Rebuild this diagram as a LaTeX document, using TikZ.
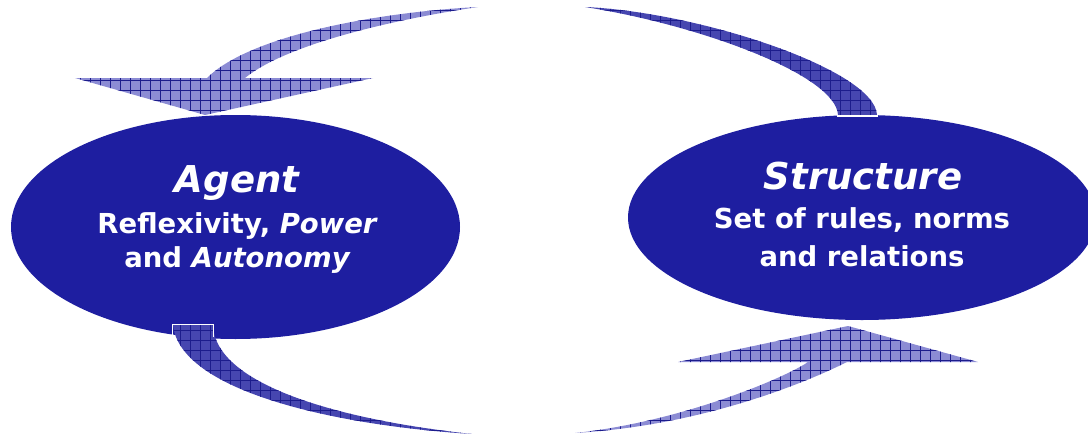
\documentclass[tikz,border=0pt]{standalone}
\usepackage{fontspec}
\setmainfont{DejaVu Sans}
\usetikzlibrary{shapes.geometric}
\definecolor{navy}{RGB}{30,30,160}
\definecolor{lightarr}{RGB}{140,140,212}
\definecolor{darkarr}{RGB}{70,70,176}
\definecolor{gridc}{RGB}{28,28,140}
\tikzset{
  oval/.style={ellipse, fill=navy, inner sep=0pt},
  title/.style={text=white, font=\fontsize{37}{40}\selectfont\bfseries\itshape, anchor=base, inner sep=0pt},
  body/.style={text=white, font=\fontsize{27.5}{30}\selectfont\bfseries, anchor=base, inner sep=0pt},
  gridlines/.style={draw=gridc, line width=0.6pt, step=10pt},
  endline/.style={draw=white, line width=1.3pt}
}
\def\arrowTL{(478,7) .. controls (380,12) and (250,35) .. (207,78) -- (75,78) -- (205,115) -- (373,78) -- (245,78) .. controls (285,45) and (390,20) .. (478,7) -- cycle}
\def\arrowTR{(585,7) .. controls (700,12) and (875,70) .. (877,115) -- (838,115) .. controls (836,75) and (700,25) .. (585,7) -- cycle}
\def\arrowBL{(173,325) .. controls (180,390) and (330,425) .. (472,434) .. controls (340,420) and (215,385) .. (213,325) -- cycle}
\def\arrowBR{(575,433) .. controls (680,422) and (785,378) .. (808,362) -- (678,362) -- (848,326) -- (978,362) -- (847,362) .. controls (815,378) and (710,425) .. (575,433) -- cycle}
\begin{document}
\begin{tikzpicture}[x=1pt,y=-1pt]
\useasboundingbox (0,0) rectangle (1088,434);
\clip (0,0) rectangle (1088,434);
% ellipses
\node[oval, minimum width=449pt, minimum height=224pt] (agent) at (235.5,227) {};
\node[oval, minimum width=468pt, minimum height=205pt] (structure) at (862,217.5) {};
% texts
\node[title] (agentT) at (237,192) {Agent};
\node[body] (agentL1) at (237,233) {Reflexivity, \itshape Power};
\node[body] (agentL2) at (237,267) {and \itshape Autonomy};
\node[title] (structT) at (863,189) {Structure};
\node[body] (structL1) at (862,228) {Set of rules, norms};
\node[body] (structL2) at (862,266) {and relations};
% top-left arrow (head onto Agent)
\begin{scope}
  \clip \arrowTL;
  \fill[lightarr] (0,0) rectangle (1088,434);
  \path[gridlines] (0,0) grid (1088,434);
\end{scope}
% top-right tail (from Structure)
\begin{scope}
  \clip \arrowTR;
  \fill[darkarr] (0,0) rectangle (1088,434);
  \path[gridlines] (0,0) grid (1088,434);
\end{scope}
\path[endline] (837,116) -- (878,116);
% bottom-left tail (from Agent)
\begin{scope}
  \clip \arrowBL;
  \fill[darkarr] (0,0) rectangle (1088,434);
  \path[gridlines] (0,0) grid (1088,434);
\end{scope}
\path[endline] (172.5,337) -- (172.5,324.5) -- (213.5,324.5) -- (213.5,337);
% bottom-right arrow (head onto Structure)
\begin{scope}
  \clip \arrowBR;
  \fill[lightarr] (0,0) rectangle (1088,434);
  \path[gridlines] (0,0) grid (1088,434);
\end{scope}
\end{tikzpicture}
\end{document}
